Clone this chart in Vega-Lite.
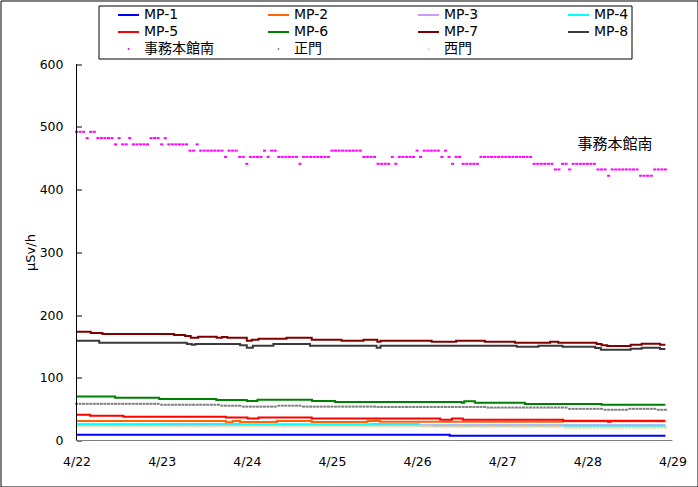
{
"$schema":"https://vega.github.io/schema/vega-lite/v6.json",
"width":697,"height":486,
"autosize":{"type":"none"},
"padding":{"left":0.5,"top":0.5,"right":0,"bottom":0},
"background":"white",
"config":{"view":{"stroke":"#000","strokeWidth":1},"font":"DejaVu Sans"},
"datasets":{
"lines":[
{"s":"MP-1","h":0,"v":9},{"s":"MP-1","h":105.2,"v":7.5},{"s":"MP-1","h":166,"v":7.5},
{"s":"MP-2","h":0,"v":31},{"s":"MP-2","h":42.1,"v":29},{"s":"MP-2","h":44,"v":31},{"s":"MP-2","h":46.1,"v":29.5},{"s":"MP-2","h":56.5,"v":31},{"s":"MP-2","h":66.3,"v":29.5},{"s":"MP-2","h":82,"v":31},{"s":"MP-2","h":85.5,"v":30},{"s":"MP-2","h":137,"v":30.5},{"s":"MP-2","h":166,"v":30.5},
{"s":"MP-3","h":0,"v":25.5},{"s":"MP-3","h":25,"v":26.5},{"s":"MP-3","h":46,"v":25.5},{"s":"MP-3","h":83,"v":26.5},{"s":"MP-3","h":96.5,"v":24.5},{"s":"MP-3","h":166,"v":24.5},
{"s":"MP-4","h":0,"v":26},{"s":"MP-4","h":25,"v":24.5},{"s":"MP-4","h":46,"v":25.5},{"s":"MP-4","h":83,"v":24.5},{"s":"MP-4","h":96.5,"v":23.5},{"s":"MP-4","h":166,"v":23.5},
{"s":"MP-5","h":0,"v":41},{"s":"MP-5","h":3.8,"v":39.5},{"s":"MP-5","h":13.2,"v":38},{"s":"MP-5","h":42.1,"v":36.5},{"s":"MP-5","h":48.2,"v":35},{"s":"MP-5","h":51.3,"v":36.5},{"s":"MP-5","h":66.3,"v":35},{"s":"MP-5","h":102.5,"v":33},{"s":"MP-5","h":105.8,"v":35},{"s":"MP-5","h":108.9,"v":33},{"s":"MP-5","h":137.2,"v":31.5},{"s":"MP-5","h":149.8,"v":30},{"s":"MP-5","h":150.5,"v":31.5},{"s":"MP-5","h":166,"v":31.5},
{"s":"MP-6","h":0,"v":70},{"s":"MP-6","h":10.9,"v":68},{"s":"MP-6","h":23.3,"v":66},{"s":"MP-6","h":39.4,"v":64.5},{"s":"MP-6","h":48,"v":63},{"s":"MP-6","h":51,"v":65},{"s":"MP-6","h":66.4,"v":63},{"s":"MP-6","h":72.9,"v":61.5},{"s":"MP-6","h":108.6,"v":60},{"s":"MP-6","h":109.3,"v":62.5},{"s":"MP-6","h":112.3,"v":60},{"s":"MP-6","h":126.4,"v":58},{"s":"MP-6","h":148,"v":57},{"s":"MP-6","h":166,"v":57},
{"s":"MP-7","h":0,"v":173.5},{"s":"MP-7","h":4,"v":171.3},{"s":"MP-7","h":7.3,"v":169.7},{"s":"MP-7","h":27.5,"v":168.2},{"s":"MP-7","h":30.6,"v":166.6},{"s":"MP-7","h":32.2,"v":163.9},{"s":"MP-7","h":34.3,"v":165.5},{"s":"MP-7","h":39.5,"v":163.9},{"s":"MP-7","h":41,"v":165},{"s":"MP-7","h":42.5,"v":163.9},{"s":"MP-7","h":48,"v":159.1},{"s":"MP-7","h":49.4,"v":160.7},{"s":"MP-7","h":51.3,"v":162.3},{"s":"MP-7","h":59.2,"v":163.9},{"s":"MP-7","h":66.3,"v":160.7},{"s":"MP-7","h":74.7,"v":159.1},{"s":"MP-7","h":80.9,"v":160.7},{"s":"MP-7","h":84.8,"v":157.5},{"s":"MP-7","h":85.7,"v":159.1},{"s":"MP-7","h":100.1,"v":157.5},{"s":"MP-7","h":107,"v":159.1},{"s":"MP-7","h":115.1,"v":157.5},{"s":"MP-7","h":123.6,"v":155.9},{"s":"MP-7","h":133.5,"v":157.5},{"s":"MP-7","h":135.8,"v":155.9},{"s":"MP-7","h":146.6,"v":153.8},{"s":"MP-7","h":148,"v":151.7},{"s":"MP-7","h":149.6,"v":150.6},{"s":"MP-7","h":156.2,"v":152.7},{"s":"MP-7","h":159.3,"v":154.3},{"s":"MP-7","h":164.5,"v":152.7},{"s":"MP-7","h":166,"v":152.7},
{"s":"MP-8","h":0,"v":159.1},{"s":"MP-8","h":6.4,"v":155.9},{"s":"MP-8","h":31.1,"v":153.8},{"s":"MP-8","h":32.5,"v":152.7},{"s":"MP-8","h":33.5,"v":153.8},{"s":"MP-8","h":46.1,"v":151.7},{"s":"MP-8","h":48,"v":148},{"s":"MP-8","h":49.7,"v":151.2},{"s":"MP-8","h":55.5,"v":153.8},{"s":"MP-8","h":65.8,"v":151.2},{"s":"MP-8","h":84.6,"v":148},{"s":"MP-8","h":85.7,"v":151.2},{"s":"MP-8","h":124.1,"v":149.6},{"s":"MP-8","h":130.2,"v":151.2},{"s":"MP-8","h":137,"v":149.6},{"s":"MP-8","h":146.2,"v":147.5},{"s":"MP-8","h":147.8,"v":144.8},{"s":"MP-8","h":156.2,"v":146.4},{"s":"MP-8","h":159.3,"v":148},{"s":"MP-8","h":164.5,"v":145.9},{"s":"MP-8","h":166,"v":145.9}
],
"pts":[
{"s":"正門","h":0,"v":58.5},{"s":"正門","h":1,"v":58.5},{"s":"正門","h":2,"v":58.5},{"s":"正門","h":3,"v":58.5},{"s":"正門","h":4,"v":58.5},{"s":"正門","h":5,"v":58.5},{"s":"正門","h":6,"v":58.5},{"s":"正門","h":7,"v":58.5},{"s":"正門","h":8,"v":58.5},{"s":"正門","h":9,"v":58.5},{"s":"正門","h":10,"v":58.5},{"s":"正門","h":11,"v":58.5},{"s":"正門","h":12,"v":58.5},{"s":"正門","h":13,"v":58.5},{"s":"正門","h":14,"v":58.5},{"s":"正門","h":15,"v":58.5},{"s":"正門","h":16,"v":58.5},{"s":"正門","h":17,"v":58.5},{"s":"正門","h":18,"v":58.5},{"s":"正門","h":19,"v":58.5},{"s":"正門","h":20,"v":58.5},{"s":"正門","h":21,"v":58.5},{"s":"正門","h":22,"v":58.5},{"s":"正門","h":23,"v":58.5},
{"s":"正門","h":24,"v":57},{"s":"正門","h":25,"v":57},{"s":"正門","h":26,"v":57},{"s":"正門","h":27,"v":57},{"s":"正門","h":28,"v":57},{"s":"正門","h":29,"v":57},{"s":"正門","h":30,"v":57},{"s":"正門","h":31,"v":57},{"s":"正門","h":32,"v":57},{"s":"正門","h":33,"v":57},{"s":"正門","h":34,"v":57},{"s":"正門","h":35,"v":57},{"s":"正門","h":36,"v":57},{"s":"正門","h":37,"v":57},{"s":"正門","h":38,"v":57},{"s":"正門","h":39,"v":57},{"s":"正門","h":40,"v":57},
{"s":"正門","h":41,"v":55.5},{"s":"正門","h":42,"v":55.5},{"s":"正門","h":43,"v":55.5},{"s":"正門","h":44,"v":55.5},{"s":"正門","h":45,"v":55.5},{"s":"正門","h":46,"v":55.5},
{"s":"正門","h":47,"v":54},{"s":"正門","h":48,"v":54},{"s":"正門","h":49,"v":54},{"s":"正門","h":50,"v":54},{"s":"正門","h":51,"v":54},{"s":"正門","h":52,"v":54},{"s":"正門","h":53,"v":54},{"s":"正門","h":54,"v":54},{"s":"正門","h":55,"v":54},{"s":"正門","h":56,"v":54},
{"s":"正門","h":57,"v":55.5},{"s":"正門","h":58,"v":55.5},{"s":"正門","h":59,"v":55.5},{"s":"正門","h":60,"v":55.5},{"s":"正門","h":61,"v":55.5},{"s":"正門","h":62,"v":55.5},{"s":"正門","h":63,"v":55.5},
{"s":"正門","h":64,"v":54},{"s":"正門","h":65,"v":54},{"s":"正門","h":66,"v":54},{"s":"正門","h":67,"v":54},{"s":"正門","h":68,"v":54},{"s":"正門","h":69,"v":54},{"s":"正門","h":70,"v":54},{"s":"正門","h":71,"v":54},{"s":"正門","h":72,"v":54},{"s":"正門","h":73,"v":54},{"s":"正門","h":74,"v":54},{"s":"正門","h":75,"v":54},{"s":"正門","h":76,"v":54},{"s":"正門","h":77,"v":54},{"s":"正門","h":78,"v":54},{"s":"正門","h":79,"v":54},{"s":"正門","h":80,"v":54},{"s":"正門","h":81,"v":54},{"s":"正門","h":82,"v":54},{"s":"正門","h":83,"v":54},{"s":"正門","h":84,"v":54},
{"s":"正門","h":85,"v":53.5},{"s":"正門","h":86,"v":53.5},{"s":"正門","h":87,"v":53.5},{"s":"正門","h":88,"v":53.5},{"s":"正門","h":89,"v":53.5},{"s":"正門","h":90,"v":53.5},{"s":"正門","h":91,"v":53.5},{"s":"正門","h":92,"v":53.5},{"s":"正門","h":93,"v":53.5},{"s":"正門","h":94,"v":53.5},{"s":"正門","h":95,"v":53.5},{"s":"正門","h":96,"v":53.5},{"s":"正門","h":97,"v":53.5},{"s":"正門","h":98,"v":53.5},{"s":"正門","h":99,"v":53.5},{"s":"正門","h":100,"v":53.5},{"s":"正門","h":101,"v":53.5},{"s":"正門","h":102,"v":53.5},{"s":"正門","h":103,"v":53.5},{"s":"正門","h":104,"v":53.5},{"s":"正門","h":105,"v":53.5},{"s":"正門","h":106,"v":53.5},{"s":"正門","h":107,"v":53.5},{"s":"正門","h":108,"v":53.5},{"s":"正門","h":109,"v":53.5},{"s":"正門","h":110,"v":53.5},{"s":"正門","h":111,"v":53.5},{"s":"正門","h":112,"v":53.5},{"s":"正門","h":113,"v":53.5},{"s":"正門","h":114,"v":53.5},{"s":"正門","h":115,"v":53.5},
{"s":"正門","h":116,"v":52.5},{"s":"正門","h":117,"v":52.5},{"s":"正門","h":118,"v":52.5},{"s":"正門","h":119,"v":52.5},{"s":"正門","h":120,"v":52.5},{"s":"正門","h":121,"v":52.5},{"s":"正門","h":122,"v":52.5},{"s":"正門","h":123,"v":52.5},{"s":"正門","h":124,"v":52.5},{"s":"正門","h":125,"v":52.5},{"s":"正門","h":126,"v":52.5},{"s":"正門","h":127,"v":52.5},{"s":"正門","h":128,"v":52.5},{"s":"正門","h":129,"v":52.5},{"s":"正門","h":130,"v":52.5},{"s":"正門","h":131,"v":52.5},{"s":"正門","h":132,"v":52.5},{"s":"正門","h":133,"v":52.5},{"s":"正門","h":134,"v":52.5},{"s":"正門","h":135,"v":52.5},{"s":"正門","h":136,"v":52.5},{"s":"正門","h":137,"v":52.5},{"s":"正門","h":138,"v":52.5},
{"s":"正門","h":139,"v":50.5},{"s":"正門","h":140,"v":50.5},{"s":"正門","h":141,"v":50.5},{"s":"正門","h":142,"v":50.5},{"s":"正門","h":143,"v":50.5},{"s":"正門","h":144,"v":50.5},{"s":"正門","h":145,"v":50.5},{"s":"正門","h":146,"v":50.5},{"s":"正門","h":147,"v":50.5},{"s":"正門","h":148,"v":50.5},
{"s":"正門","h":149,"v":49},{"s":"正門","h":150,"v":49},{"s":"正門","h":151,"v":49},{"s":"正門","h":152,"v":49},{"s":"正門","h":153,"v":49},{"s":"正門","h":154,"v":49},{"s":"正門","h":155,"v":49},
{"s":"正門","h":156,"v":50.5},{"s":"正門","h":157,"v":50.5},{"s":"正門","h":158,"v":50.5},{"s":"正門","h":159,"v":50.5},{"s":"正門","h":160,"v":50.5},{"s":"正門","h":161,"v":50.5},{"s":"正門","h":162,"v":50.5},{"s":"正門","h":163,"v":50.5},
{"s":"正門","h":164,"v":49},{"s":"正門","h":165,"v":49},{"s":"正門","h":166,"v":49},
{"s":"西門","h":0,"v":23},{"s":"西門","h":1,"v":23},{"s":"西門","h":2,"v":23},{"s":"西門","h":3,"v":23},{"s":"西門","h":4,"v":23},{"s":"西門","h":5,"v":23},{"s":"西門","h":6,"v":23},{"s":"西門","h":7,"v":23},{"s":"西門","h":8,"v":23},{"s":"西門","h":9,"v":23},{"s":"西門","h":10,"v":23},{"s":"西門","h":11,"v":23},{"s":"西門","h":12,"v":23},{"s":"西門","h":13,"v":23},{"s":"西門","h":14,"v":23},{"s":"西門","h":15,"v":23},{"s":"西門","h":16,"v":23},{"s":"西門","h":17,"v":23},{"s":"西門","h":18,"v":23},{"s":"西門","h":19,"v":23},{"s":"西門","h":20,"v":23},{"s":"西門","h":21,"v":23},{"s":"西門","h":22,"v":23},{"s":"西門","h":23,"v":23},{"s":"西門","h":24,"v":23},{"s":"西門","h":25,"v":23},{"s":"西門","h":26,"v":23},{"s":"西門","h":27,"v":23},{"s":"西門","h":28,"v":23},{"s":"西門","h":29,"v":23},{"s":"西門","h":30,"v":23},{"s":"西門","h":31,"v":23},{"s":"西門","h":32,"v":23},{"s":"西門","h":33,"v":23},{"s":"西門","h":34,"v":23},{"s":"西門","h":35,"v":23},{"s":"西門","h":36,"v":23},{"s":"西門","h":37,"v":23},{"s":"西門","h":38,"v":23},{"s":"西門","h":39,"v":23},{"s":"西門","h":40,"v":23},{"s":"西門","h":41,"v":23},{"s":"西門","h":42,"v":23},{"s":"西門","h":43,"v":23},{"s":"西門","h":44,"v":23},{"s":"西門","h":45,"v":23},{"s":"西門","h":46,"v":23},{"s":"西門","h":47,"v":23},{"s":"西門","h":48,"v":23},{"s":"西門","h":49,"v":23},{"s":"西門","h":50,"v":23},{"s":"西門","h":51,"v":23},{"s":"西門","h":52,"v":23},{"s":"西門","h":53,"v":23},{"s":"西門","h":54,"v":23},{"s":"西門","h":55,"v":23},{"s":"西門","h":56,"v":23},{"s":"西門","h":57,"v":23},{"s":"西門","h":58,"v":23},{"s":"西門","h":59,"v":23},{"s":"西門","h":60,"v":23},{"s":"西門","h":61,"v":23},{"s":"西門","h":62,"v":23},{"s":"西門","h":63,"v":23},{"s":"西門","h":64,"v":23},{"s":"西門","h":65,"v":23},{"s":"西門","h":66,"v":23},{"s":"西門","h":67,"v":23},{"s":"西門","h":68,"v":23},{"s":"西門","h":69,"v":23},{"s":"西門","h":70,"v":23},{"s":"西門","h":71,"v":23},{"s":"西門","h":72,"v":23},{"s":"西門","h":73,"v":23},{"s":"西門","h":74,"v":23},{"s":"西門","h":75,"v":23},{"s":"西門","h":76,"v":23},{"s":"西門","h":77,"v":23},{"s":"西門","h":78,"v":23},{"s":"西門","h":79,"v":23},{"s":"西門","h":80,"v":23},{"s":"西門","h":81,"v":23},{"s":"西門","h":82,"v":23},{"s":"西門","h":83,"v":23},{"s":"西門","h":84,"v":23},{"s":"西門","h":85,"v":23},{"s":"西門","h":86,"v":23},{"s":"西門","h":87,"v":23},{"s":"西門","h":88,"v":23},{"s":"西門","h":89,"v":23},{"s":"西門","h":90,"v":23},{"s":"西門","h":91,"v":23},{"s":"西門","h":92,"v":23},{"s":"西門","h":93,"v":23},{"s":"西門","h":94,"v":23},{"s":"西門","h":95,"v":23},{"s":"西門","h":96,"v":23},{"s":"西門","h":97,"v":23},{"s":"西門","h":98,"v":23},{"s":"西門","h":99,"v":23},{"s":"西門","h":100,"v":23},
{"s":"西門","h":101,"v":22},{"s":"西門","h":102,"v":22},{"s":"西門","h":103,"v":22},{"s":"西門","h":104,"v":22},{"s":"西門","h":105,"v":22},{"s":"西門","h":106,"v":22},{"s":"西門","h":107,"v":22},{"s":"西門","h":108,"v":22},{"s":"西門","h":109,"v":22},{"s":"西門","h":110,"v":22},{"s":"西門","h":111,"v":22},{"s":"西門","h":112,"v":22},{"s":"西門","h":113,"v":22},{"s":"西門","h":114,"v":22},{"s":"西門","h":115,"v":22},{"s":"西門","h":116,"v":22},{"s":"西門","h":117,"v":22},{"s":"西門","h":118,"v":22},{"s":"西門","h":119,"v":22},{"s":"西門","h":120,"v":22},{"s":"西門","h":121,"v":22},{"s":"西門","h":122,"v":22},{"s":"西門","h":123,"v":22},{"s":"西門","h":124,"v":22},{"s":"西門","h":125,"v":22},{"s":"西門","h":126,"v":22},{"s":"西門","h":127,"v":22},{"s":"西門","h":128,"v":22},{"s":"西門","h":129,"v":22},{"s":"西門","h":130,"v":22},{"s":"西門","h":131,"v":22},{"s":"西門","h":132,"v":22},{"s":"西門","h":133,"v":22},{"s":"西門","h":134,"v":22},{"s":"西門","h":135,"v":22},{"s":"西門","h":136,"v":22},{"s":"西門","h":137,"v":22},
{"s":"西門","h":138,"v":20.5},{"s":"西門","h":139,"v":20.5},{"s":"西門","h":140,"v":20.5},{"s":"西門","h":141,"v":20.5},{"s":"西門","h":142,"v":20.5},{"s":"西門","h":143,"v":20.5},{"s":"西門","h":144,"v":20.5},{"s":"西門","h":145,"v":20.5},{"s":"西門","h":146,"v":20.5},{"s":"西門","h":147,"v":20.5},{"s":"西門","h":148,"v":20.5},{"s":"西門","h":149,"v":20.5},{"s":"西門","h":150,"v":20.5},{"s":"西門","h":151,"v":20.5},{"s":"西門","h":152,"v":20.5},{"s":"西門","h":153,"v":20.5},{"s":"西門","h":154,"v":20.5},{"s":"西門","h":155,"v":20.5},{"s":"西門","h":156,"v":20.5},{"s":"西門","h":157,"v":20.5},{"s":"西門","h":158,"v":20.5},{"s":"西門","h":159,"v":20.5},{"s":"西門","h":160,"v":20.5},{"s":"西門","h":161,"v":20.5},{"s":"西門","h":162,"v":20.5},{"s":"西門","h":163,"v":20.5},{"s":"西門","h":164,"v":20.5},{"s":"西門","h":165,"v":20.5},{"s":"西門","h":166,"v":20.5},
{"s":"事務本館南","h":0,"v":492},{"s":"事務本館南","h":1,"v":492},{"s":"事務本館南","h":2,"v":492},{"s":"事務本館南","h":3,"v":482},{"s":"事務本館南","h":4,"v":492},{"s":"事務本館南","h":5,"v":492},{"s":"事務本館南","h":6,"v":482},{"s":"事務本館南","h":7,"v":482},{"s":"事務本館南","h":8,"v":482},{"s":"事務本館南","h":9,"v":482},
{"s":"事務本館南","h":10,"v":482},{"s":"事務本館南","h":11,"v":472},{"s":"事務本館南","h":12,"v":482},{"s":"事務本館南","h":13,"v":472},{"s":"事務本館南","h":14,"v":472},{"s":"事務本館南","h":15,"v":482},{"s":"事務本館南","h":16,"v":472},{"s":"事務本館南","h":17,"v":472},{"s":"事務本館南","h":18,"v":472},{"s":"事務本館南","h":19,"v":472},
{"s":"事務本館南","h":20,"v":472},{"s":"事務本館南","h":21,"v":482},{"s":"事務本館南","h":22,"v":482},{"s":"事務本館南","h":23,"v":482},{"s":"事務本館南","h":24,"v":472},{"s":"事務本館南","h":25,"v":482},{"s":"事務本館南","h":26,"v":472},{"s":"事務本館南","h":27,"v":472},{"s":"事務本館南","h":28,"v":472},{"s":"事務本館南","h":29,"v":472},
{"s":"事務本館南","h":30,"v":472},{"s":"事務本館南","h":31,"v":472},{"s":"事務本館南","h":32,"v":462},{"s":"事務本館南","h":33,"v":462},{"s":"事務本館南","h":34,"v":472},{"s":"事務本館南","h":35,"v":462},{"s":"事務本館南","h":36,"v":462},{"s":"事務本館南","h":37,"v":462},{"s":"事務本館南","h":38,"v":462},{"s":"事務本館南","h":39,"v":462},
{"s":"事務本館南","h":40,"v":462},{"s":"事務本館南","h":41,"v":462},{"s":"事務本館南","h":42,"v":452},{"s":"事務本館南","h":43,"v":462},{"s":"事務本館南","h":44,"v":462},{"s":"事務本館南","h":45,"v":462},{"s":"事務本館南","h":46,"v":452},{"s":"事務本館南","h":47,"v":452},{"s":"事務本館南","h":48,"v":441},{"s":"事務本館南","h":49,"v":452},
{"s":"事務本館南","h":50,"v":452},{"s":"事務本館南","h":51,"v":452},{"s":"事務本館南","h":52,"v":452},{"s":"事務本館南","h":53,"v":462},{"s":"事務本館南","h":54,"v":452},{"s":"事務本館南","h":55,"v":462},{"s":"事務本館南","h":56,"v":462},{"s":"事務本館南","h":57,"v":452},{"s":"事務本館南","h":58,"v":452},{"s":"事務本館南","h":59,"v":452},
{"s":"事務本館南","h":60,"v":452},{"s":"事務本館南","h":61,"v":452},{"s":"事務本館南","h":62,"v":452},{"s":"事務本館南","h":63,"v":441},{"s":"事務本館南","h":64,"v":452},{"s":"事務本館南","h":65,"v":452},{"s":"事務本館南","h":66,"v":452},{"s":"事務本館南","h":67,"v":452},{"s":"事務本館南","h":68,"v":452},{"s":"事務本館南","h":69,"v":452},
{"s":"事務本館南","h":70,"v":452},{"s":"事務本館南","h":71,"v":452},{"s":"事務本館南","h":72,"v":462},{"s":"事務本館南","h":73,"v":462},{"s":"事務本館南","h":74,"v":462},{"s":"事務本館南","h":75,"v":462},{"s":"事務本館南","h":76,"v":462},{"s":"事務本館南","h":77,"v":462},{"s":"事務本館南","h":78,"v":462},{"s":"事務本館南","h":79,"v":462},
{"s":"事務本館南","h":80,"v":462},{"s":"事務本館南","h":81,"v":452},{"s":"事務本館南","h":82,"v":452},{"s":"事務本館南","h":83,"v":452},{"s":"事務本館南","h":84,"v":452},{"s":"事務本館南","h":85,"v":441},{"s":"事務本館南","h":86,"v":441},{"s":"事務本館南","h":87,"v":441},{"s":"事務本館南","h":88,"v":441},{"s":"事務本館南","h":89,"v":452},
{"s":"事務本館南","h":90,"v":441},{"s":"事務本館南","h":91,"v":452},{"s":"事務本館南","h":92,"v":452},{"s":"事務本館南","h":93,"v":452},{"s":"事務本館南","h":94,"v":452},{"s":"事務本館南","h":95,"v":452},{"s":"事務本館南","h":96,"v":462},{"s":"事務本館南","h":97,"v":452},{"s":"事務本館南","h":98,"v":462},{"s":"事務本館南","h":99,"v":462},
{"s":"事務本館南","h":100,"v":462},{"s":"事務本館南","h":101,"v":462},{"s":"事務本館南","h":102,"v":462},{"s":"事務本館南","h":103,"v":452},{"s":"事務本館南","h":104,"v":462},{"s":"事務本館南","h":105,"v":452},{"s":"事務本館南","h":106,"v":441},{"s":"事務本館南","h":107,"v":452},{"s":"事務本館南","h":108,"v":452},{"s":"事務本館南","h":109,"v":441},
{"s":"事務本館南","h":110,"v":441},{"s":"事務本館南","h":111,"v":441},{"s":"事務本館南","h":112,"v":441},{"s":"事務本館南","h":113,"v":441},{"s":"事務本館南","h":114,"v":452},{"s":"事務本館南","h":115,"v":452},{"s":"事務本館南","h":116,"v":452},{"s":"事務本館南","h":117,"v":452},{"s":"事務本館南","h":118,"v":452},{"s":"事務本館南","h":119,"v":452},
{"s":"事務本館南","h":120,"v":452},{"s":"事務本館南","h":121,"v":452},{"s":"事務本館南","h":122,"v":452},{"s":"事務本館南","h":123,"v":452},{"s":"事務本館南","h":124,"v":452},{"s":"事務本館南","h":125,"v":452},{"s":"事務本館南","h":126,"v":452},{"s":"事務本館南","h":127,"v":452},{"s":"事務本館南","h":128,"v":452},{"s":"事務本館南","h":129,"v":441},
{"s":"事務本館南","h":130,"v":441},{"s":"事務本館南","h":131,"v":441},{"s":"事務本館南","h":132,"v":441},{"s":"事務本館南","h":133,"v":441},{"s":"事務本館南","h":134,"v":441},{"s":"事務本館南","h":135,"v":432},{"s":"事務本館南","h":136,"v":432},{"s":"事務本館南","h":137,"v":441},{"s":"事務本館南","h":138,"v":441},{"s":"事務本館南","h":139,"v":432},
{"s":"事務本館南","h":140,"v":441},{"s":"事務本館南","h":141,"v":441},{"s":"事務本館南","h":142,"v":441},{"s":"事務本館南","h":143,"v":441},{"s":"事務本館南","h":144,"v":441},{"s":"事務本館南","h":145,"v":441},{"s":"事務本館南","h":146,"v":441},{"s":"事務本館南","h":147,"v":432},{"s":"事務本館南","h":148,"v":432},{"s":"事務本館南","h":149,"v":432},
{"s":"事務本館南","h":150,"v":422},{"s":"事務本館南","h":151,"v":432},{"s":"事務本館南","h":152,"v":432},{"s":"事務本館南","h":153,"v":432},{"s":"事務本館南","h":154,"v":432},{"s":"事務本館南","h":155,"v":432},{"s":"事務本館南","h":156,"v":432},{"s":"事務本館南","h":157,"v":432},{"s":"事務本館南","h":158,"v":432},{"s":"事務本館南","h":159,"v":422},
{"s":"事務本館南","h":160,"v":422},{"s":"事務本館南","h":161,"v":422},{"s":"事務本館南","h":162,"v":422},{"s":"事務本館南","h":163,"v":432},{"s":"事務本館南","h":164,"v":432},{"s":"事務本館南","h":165,"v":432},{"s":"事務本館南","h":166,"v":432}
]
},
"encoding":{
"x":{"field":"h","type":"quantitative","scale":{"domain":[-21.43,175.05],"nice":false,"zero":false},
"axis":{"orient":"bottom","offset":-46,"values":[0,24,48,72,96,120,144,168],"labelExpr":"'4/' + (22 + datum.value/24)","domain":false,"ticks":false,"grid":false,"labelPadding":15,"labelFont":"DejaVu Sans","labelFontSize":12.5,"labelColor":"#000","labelFlush":false,"labelOverlap":false,"title":null}},
"y":{"field":"v","type":"quantitative","scale":{"domain":[-73.3,701.3],"nice":false,"zero":false},
"axis":{"orient":"left","offset":-76,"values":[0,100,200,300,400,500,600],"domain":false,"grid":false,"ticks":true,"tickSize":-5,"tickColor":"#000","tickWidth":1,"labelPadding":18.5,"labelFont":"DejaVu Sans","labelFontSize":12.5,"labelColor":"#000","labelFlush":false,"labelOverlap":false,"title":"μSv/h","titleFont":"DejaVu Sans","titleFontSize":13,"titleFontWeight":"normal","titleColor":"#000","titleX":-46,"titleY":251.5,"titleAngle":270,"titleAlign":"center","titleBaseline":"middle"}}
},
"layer":[
{"data":{"values":[{"h":0,"h2":168,"v":0}]},"mark":{"type":"rule","color":"#808080","strokeWidth":1},"encoding":{"x2":{"field":"h2"}}},
{"data":{"name":"lines"},"mark":{"type":"line","interpolate":"step-after","strokeWidth":2},
"encoding":{"color":{"field":"s","type":"nominal","sort":null,
"scale":{"domain":["MP-1","MP-2","MP-3","MP-4","MP-5","MP-6","MP-7","MP-8","事務本館南","正門","西門"],"range":["#0000ff","#ff6600","#cc99ff","#00ffff","#ff0000","#008000","#800000","#3a3a3a","#ff00ff","#808080","#ffcc99"]},
"legend":{"orient":"none","legendX":98,"legendY":5,"direction":"horizontal","columns":4,"title":" ","titleOrient":"left","titlePadding":16,"titleFontSize":11,"strokeColor":"#000","padding":2.5,"labelFont":"DejaVu Sans, Noto Sans CJK JP","labelFontSize":14,"labelColor":"#000","labelOffset":4,"columnPadding":53,"rowPadding":3,"clipHeight":14,"gridAlign":"all","symbolSize":441,"symbolType":"stroke","symbolStrokeWidth":2,"labelLimit":300,
"encode":{"symbols":{"update":{
"shape":{"value":"stroke"},
"size":{"value":441},
"fill":{"value":"transparent"},
"stroke":{"signal":"scale('color', datum.value)"},
"strokeDash":{"signal":"indexof(['事務本館南','正門','西門'], datum.value) >= 0 ? [1.5, 40] : [1000, 0]"},
"strokeDashOffset":{"signal":"indexof(['事務本館南','正門','西門'], datum.value) >= 0 ? -9.75 : 0"},
"strokeWidth":{"value":2},"opacity":{"value":1}}}}}}}},
{"data":{"name":"pts"},"mark":{"type":"tick","orient":"horizontal","size":3,"thickness":2,"opacity":1},
"encoding":{"color":{"field":"s","type":"nominal","sort":null,
"scale":{"domain":["MP-1","MP-2","MP-3","MP-4","MP-5","MP-6","MP-7","MP-8","事務本館南","正門","西門"],"range":["#0000ff","#ff6600","#cc99ff","#00ffff","#ff0000","#008000","#800000","#3a3a3a","#ff00ff","#808080","#ffcc99"]}}}},
{"data":{"values":[{"h":0,"v":0,"v2":600}]},"mark":{"type":"rule","color":"#000","strokeWidth":1},"encoding":{"y2":{"field":"v2"}}},
{"data":{"values":[{"h":151.8,"v":472.6,"t":"事務本館南"}]},"mark":{"type":"text","font":"Noto Sans CJK JP","fontSize":15,"color":"#000","align":"center","baseline":"middle"},"encoding":{"text":{"field":"t"}}}
]
}
